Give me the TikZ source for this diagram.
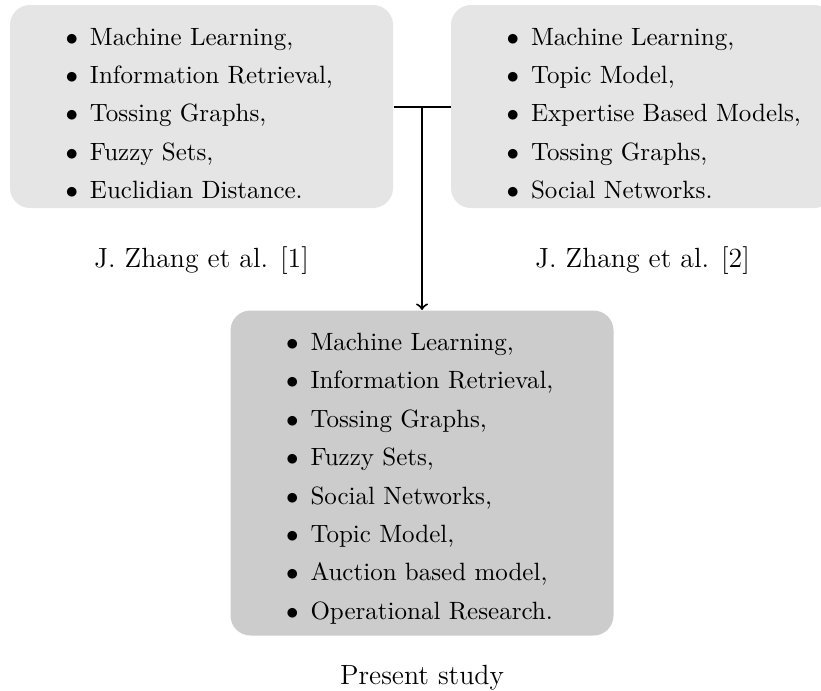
\documentclass[tikz,border=0pt]{standalone}
\usepackage{amsmath}
\usepackage{amssymb}
\usepackage{tikz}
\usetikzlibrary{positioning}

\newcommand{\topicitem}{\makebox[32pt][r]{$\bullet$\hspace{4.75pt}}}

\begin{document}
\begin{tikzpicture}[topicbox/.style={fill=gray!20, rounded corners=8pt, text width=153.2pt, inner xsep=0pt, inner ysep=0pt, align=left, text height=16pt, text depth=65.2pt}, reflabel/.style={font=\fontsize{11.1}{13}\selectfont}, link/.style={thick}]
\useasboundingbox (0,0) rectangle (328.4pt,-276pt);
\node[topicbox] (ZHANGA) at (80.6pt,-42.6pt)
{\topicitem Machine Learning,\\[3.35pt]
\topicitem Information Retrieval,\\[3.35pt]
\topicitem Tossing Graphs,\\[3.35pt]
\topicitem Fuzzy Sets,\\[3.35pt]
\topicitem Euclidian Distance.};
\node[topicbox, right=22.8pt of ZHANGA] (ZHANGB)
{\topicitem Machine Learning,\\[3.35pt]
\topicitem Topic Model,\\[3.35pt]
\topicitem Expertise Based Models,\\[3.35pt]
\topicitem Tossing Graphs,\\[3.35pt]
\topicitem Social Networks.};
\path (ZHANGA.east) -- (ZHANGB.west) coordinate[midway] (JOIN);
\node[topicbox, fill=gray!40, text depth=114pt, below=81.4pt of JOIN] (PRESENT)
{\topicitem Machine Learning,\\[3.35pt]
\topicitem Information Retrieval,\\[3.35pt]
\topicitem Tossing Graphs,\\[3.35pt]
\topicitem Fuzzy Sets,\\[3.35pt]
\topicitem Social Networks,\\[3.35pt]
\topicitem Topic Model,\\[3.35pt]
\topicitem Auction based model,\\[3.35pt]
\topicitem Operational Research.};
\node[reflabel, below=11.7pt of ZHANGA] (REFA) {J. Zhang et al. [1]};
\node[reflabel, below=11.7pt of ZHANGB] (REFB) {J. Zhang et al. [2]};
\node[reflabel, below=8pt of PRESENT] (STUDY) {Present study};
\draw[link] (ZHANGA) -- (ZHANGB);
\draw[link, ->] (JOIN) -- (PRESENT);
\end{tikzpicture}
\end{document}
